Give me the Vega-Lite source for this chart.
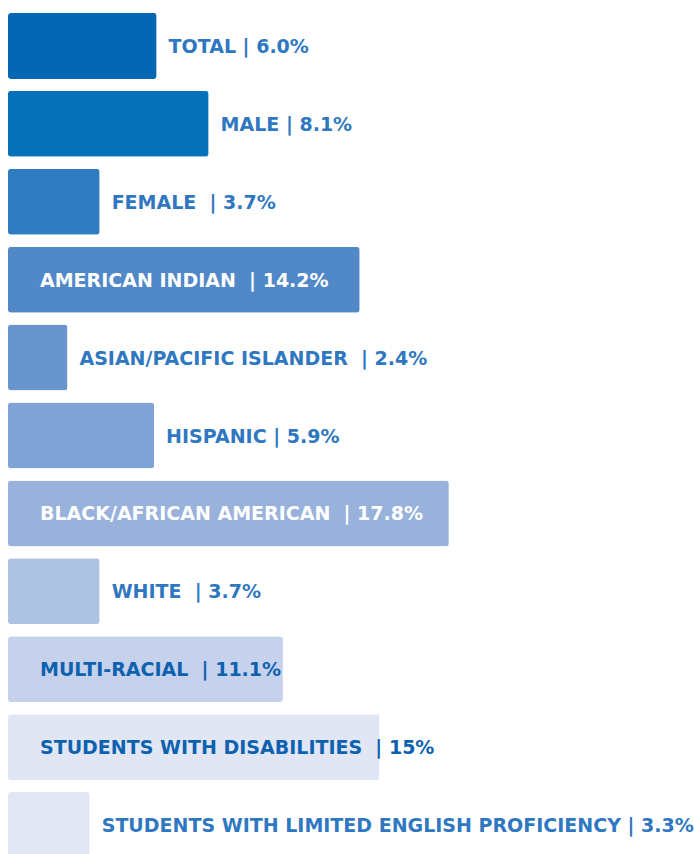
{
  "$schema": "https://vega.github.io/schema/vega-lite/v6.json",
  "width": 686,
  "height": 857,
  "autosize": {"type": "none"},
  "padding": {"left": 8, "top": 7, "right": 0, "bottom": 0},
  "background": "white",
  "config": {"view": {"stroke": null}},
  "data": {
    "values": [
      {"group": "Total", "value": 6.0, "label": "Total | 6.0%", "place": "out"},
      {"group": "Male", "value": 8.1, "label": "Male | 8.1%", "place": "out"},
      {"group": "Female", "value": 3.7, "label": "Female\u00a0 | 3.7%", "place": "out"},
      {"group": "American Indian", "value": 14.2, "label": "American Indian\u00a0 | 14.2%", "place": "in"},
      {"group": "Asian/Pacific Islander", "value": 2.4, "label": "Asian/Pacific Islander\u00a0 | 2.4%", "place": "out"},
      {"group": "Hispanic", "value": 5.9, "label": "Hispanic | 5.9%", "place": "out"},
      {"group": "Black/African American", "value": 17.8, "label": "Black/African American\u00a0 | 17.8%", "place": "in"},
      {"group": "White", "value": 3.7, "label": "White\u00a0 | 3.7%", "place": "out"},
      {"group": "Multi-racial", "value": 11.1, "label": "Multi-racial\u00a0 | 11.1%", "place": "in"},
      {"group": "Students with disabilities", "value": 15, "label": "Students with disabilities\u00a0 | 15%", "place": "in"},
      {"group": "Students with limited English Proficiency", "value": 3.3, "label": "Students with limited English Proficiency | 3.3%", "place": "out"}
    ]
  },
  "transform": [{"calculate": "upper(datum.label)", "as": "labelUp"}],
  "encoding": {
    "y": {
      "field": "group",
      "type": "nominal",
      "sort": null,
      "axis": null,
      "scale": {"paddingInner": 0.153, "paddingOuter": 0.0765}
    }
  },
  "layer": [
    {
      "mark": {"type": "bar", "cornerRadius": 3},
      "encoding": {
        "x": {"field": "value", "type": "quantitative", "scale": {"domain": [0, 27.7], "nice": false, "zero": true}, "axis": null},
        "color": {
          "field": "group",
          "type": "nominal",
          "sort": null,
          "legend": null,
          "scale": {
            "domain": ["Total", "Male", "Female", "American Indian", "Asian/Pacific Islander", "Hispanic", "Black/African American", "White", "Multi-racial", "Students with disabilities", "Students with limited English Proficiency"],
            "range": ["#0367b4", "#0571b9", "#2f7cc3", "#5088c8", "#6895cd", "#7fa3d4", "#98b2dc", "#aec3e4", "#c6d1ec", "#e1e6f5", "#e2e7f5"]
          }
        }
      }
    },
    {
      "transform": [{"filter": "datum.place == 'out'"}],
      "mark": {"type": "text", "align": "left", "baseline": "middle", "dx": 12, "dy": 1, "font": "DejaVu Sans", "fontWeight": "bold", "fontSize": 19, "color": "#2f78c1"},
      "encoding": {
        "x": {"field": "value", "type": "quantitative"},
        "text": {"field": "labelUp"}
      }
    },
    {
      "transform": [{"filter": "datum.place == 'in'"}],
      "mark": {"type": "text", "align": "left", "baseline": "middle", "dx": 32, "dy": 1, "font": "DejaVu Sans", "fontWeight": "bold", "fontSize": 19},
      "encoding": {
        "x": {"datum": 0, "type": "quantitative"},
        "text": {"field": "labelUp"},
        "color": {
          "condition": {"test": "datum.group == 'American Indian' || datum.group == 'Black/African American'", "value": "#ffffff"},
          "value": "#0d62b0"
        }
      }
    }
  ]
}
